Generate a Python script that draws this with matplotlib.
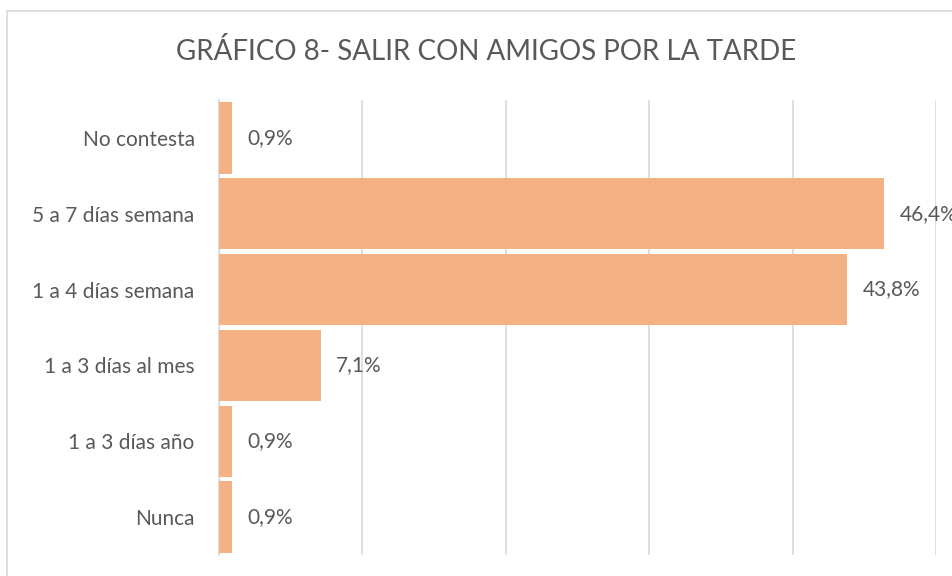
import matplotlib
matplotlib.use("Agg")
import matplotlib.pyplot as plt
from matplotlib.patches import Rectangle

categories = ["No contesta", "5 a 7 días semana", "1 a 4 días semana",
              "1 a 3 días al mes", "1 a 3 días año", "Nunca"]
values = [0.9, 46.4, 43.8, 7.1, 0.9, 0.9]
labels = ["0,9%", "46,4%", "43,8%", "7,1%", "0,9%", "0,9%"]
title = "GRÁFICO 8- SALIR CON AMIGOS POR LA TARDE"

plt.rcParams['font.family'] = ['Lato', 'DejaVu Sans']
W, H = 952, 576
fig = plt.figure(figsize=(W / 100, H / 100), dpi=100)
fig.patch.set_facecolor("white")

# chart frame
fig.patches.append(Rectangle((7 / W, -0.2), 1.2, 0.2 + (1 - 11 / H),
                             transform=fig.transFigure, facecolor="none",
                             edgecolor="#d9d9d9", linewidth=1.2))

ax = fig.add_axes([219 / W, 1 - 555 / H, (936 - 219) / W, (555 - 100) / H])
y = list(range(len(categories)))
ax.barh(y, values, height=0.94, color="#F4B183", edgecolor="none", zorder=3)
ax.set_xlim(0, 50)
ax.set_ylim(len(categories) - 0.5, -0.5)
ax.set_xticks([0, 10, 20, 30, 40, 50])
ax.xaxis.grid(True, color="#d9d9d9", linewidth=1.2, zorder=0)
ax.tick_params(axis="x", bottom=False, labelbottom=False)
ax.tick_params(axis="y", left=False, pad=14, labelsize=15, labelcolor="#595959")
ax.set_yticks(y)
ax.set_yticklabels(categories)
for s in ax.spines.values():
    s.set_visible(False)
ax.spines["left"].set_visible(True)
ax.spines["left"].set_color("#d9d9d9")
ax.spines["left"].set_linewidth(1.2)

for yi, v, lab in zip(y, values, labels):
    ax.annotate(lab, (v, yi), xytext=(11, 0), textcoords="offset points",
                va="center", ha="left", fontsize=15, color="#595959",
                annotation_clip=False)

fig.text(486 / W, 1 - 51 / H, title, ha="center", va="center",
         fontsize=20, color="#595959")

fig.savefig("out.png", dpi=100)
